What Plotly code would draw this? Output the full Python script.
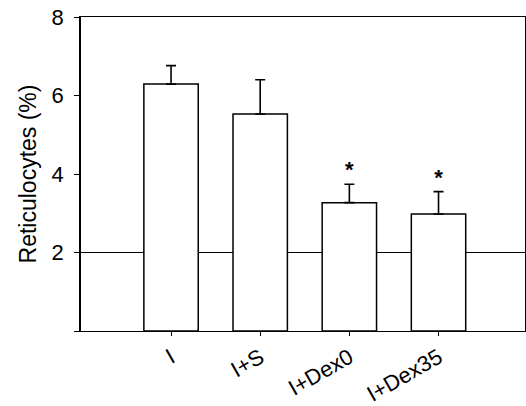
import plotly.graph_objects as go

categories = ["I", "I+S", "I+Dex0", "I+Dex35"]
means = [6.29, 5.53, 3.27, 2.98]
sem = [0.47, 0.87, 0.47, 0.57]
stars = ["", "", "<b>*</b>", "<b>*</b>"]
baseline = 2
y_ticks = [0, 2, 4, 6, 8]
y_tick_labels = ["", "2", "4", "6", "8"]

xpos = list(range(len(categories)))
font_family = "Liberation Sans, Arial, sans-serif"

fig = go.Figure()
fig.add_trace(go.Bar(
    x=xpos, y=means, width=0.61,
    marker=dict(color="white", line=dict(color="black", width=1.5)),
    error_y=dict(type="data", array=sem, arrayminus=[0]*len(sem), symmetric=False,
                 color="black", thickness=1.6, width=5),
    showlegend=False,
))
star_y = [m + s + 0.32 for m, s in zip(means, sem)]
fig.add_trace(go.Scatter(
    x=xpos, y=star_y, text=stars, mode="text",
    textfont=dict(family=font_family, size=22, color="black"),
    showlegend=False,
))
fig.add_shape(type="line", xref="paper", x0=0, x1=1, yref="y", y0=baseline, y1=baseline,
              line=dict(color="black", width=1.2), layer="below")

fig.update_layout(
    width=526, height=406,
    margin=dict(l=81, r=1, t=17, b=75),
    paper_bgcolor="white", plot_bgcolor="white",
    font=dict(family=font_family, size=22, color="black"),
    bargap=0.3,
    xaxis=dict(
        range=[-1.01, 3.97], tickvals=xpos, ticktext=categories, tickangle=-30,
        showline=True, linecolor="black", linewidth=1.3, mirror=True, automargin=False,
        ticks="outside", ticklen=4, tickcolor="black", showgrid=False, zeroline=False,
        tickfont=dict(size=22),
    ),
    yaxis=dict(
        range=[0, 8], tickvals=y_ticks, ticktext=y_tick_labels, automargin=False,
        showline=True, linecolor="black", linewidth=1.5, mirror=True,
        ticks="outside", ticklen=5, tickcolor="black", showgrid=False, zeroline=False,
        ticklabelstandoff=6,
        title=dict(text="Reticulocytes (%)", font=dict(size=23), standoff=9),
        tickfont=dict(size=22),
    ),
)
post = ("document.body.style.margin='0';document.body.style.padding='0';"
        "document.body.style.overflow='hidden';"
        "Plotly.Plots.resize(document.getElementById('{plot_id}'));")
fig.write_html("out.html", config={"responsive": False, "displayModeBar": False},
               post_script=post)
